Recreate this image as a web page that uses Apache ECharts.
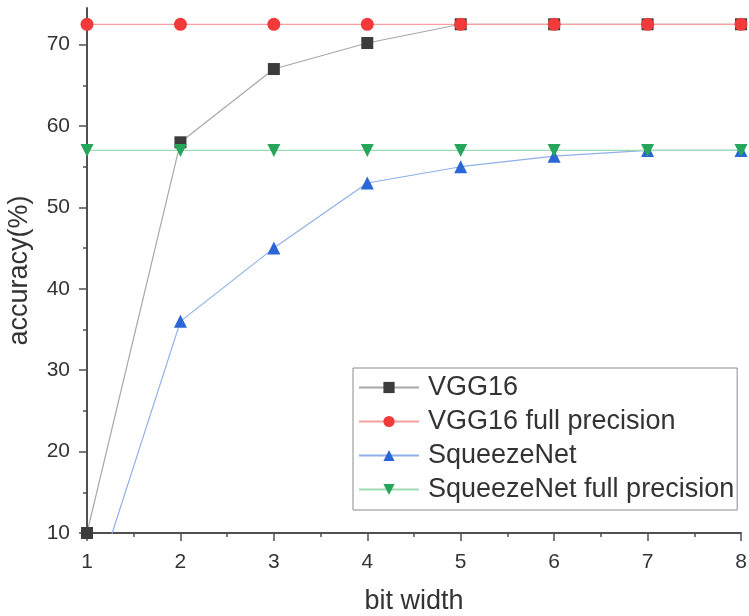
<!DOCTYPE html>
<html><head><meta charset="utf-8">
<script src="https://cdn.jsdelivr.net/npm/echarts@6/dist/echarts.min.js"></script>
<style>html,body{margin:0;padding:0;background:#fff}#c{width:749px;height:616px}</style>
</head><body><div id="c"></div>
<script>
const bitWidths = [1, 2, 3, 4, 5, 6, 7, 8];
const vgg16 = [10, 58, 67, 70.2, 72.5, 72.5, 72.5, 72.5];
const vgg16Full = [72.5, 72.5, 72.5, 72.5, 72.5, 72.5, 72.5, 72.5];
const squeezeNet = [0.4, 36, 45, 53, 55, 56.3, 57, 57];
const squeezeNetFull = [57, 57, 57, 57, 57, 57, 57, 57];
const yTicks = [10, 20, 30, 40, 50, 60, 70];

const pair = arr => bitWidths.map((x, i) => [x, arr[i]]);
const font = 'Liberation Sans, Arial, sans-serif';
const chart = echarts.init(document.getElementById('c'));
function mk(name, data, lineColor, markColor, symbol, size, rotate) {
  return {
    name, type: 'line', data: pair(data), symbol, symbolSize: size, symbolRotate: rotate || 0,
    lineStyle: { color: lineColor, width: 1.2 },
    itemStyle: { color: markColor, borderWidth: 0 },
    clip: true, animation: false, z: 3
  };
}
chart.setOption({
  animation: false,
  grid: { left: 87, right: 8, top: 8, bottom: 83, containLabel: false, outerBoundsMode: 'none' },
  xAxis: {
    type: 'value', min: 1, max: 8, interval: 1,
    name: 'bit width', nameLocation: 'middle', nameGap: 55,
    nameTextStyle: { fontSize: 27, color: '#333', fontFamily: font },
    axisLine: { lineStyle: { color: '#505050', width: 2 } },
    axisTick: { show: true, inside: false, length: 8, lineStyle: { color: '#505050', width: 1.5 } },
    minorTick: { show: true, splitNumber: 2, length: 4, lineStyle: { color: '#505050', width: 1.5 } },
    axisLabel: { fontSize: 21, color: '#333', fontFamily: font, margin: 19 },
    splitLine: { show: false }
  },
  yAxis: {
    type: 'value', min: 10, max: 74.5, interval: 10,
    name: 'accuracy(%)', nameLocation: 'middle', nameGap: 54, nameRotate: 90,
    nameTextStyle: { fontSize: 27, color: '#333', fontFamily: font },
    axisLine: { show: true, lineStyle: { color: '#505050', width: 2 } },
    axisTick: { show: true, inside: false, length: 8, lineStyle: { color: '#505050', width: 1.5 },
                customValues: yTicks },
    minorTick: { show: true, splitNumber: 2, length: 4, lineStyle: { color: '#505050', width: 1.5 } },
    axisLabel: { fontSize: 21, color: '#333', fontFamily: font, margin: 17, customValues: yTicks },
    splitLine: { show: false }
  },
  legend: {
    orient: 'vertical', left: 353, top: 368,
    itemWidth: 60, itemHeight: 14, itemGap: 7,
    padding: [6, 3, 7, 5],
    borderColor: '#8a8a8a', borderWidth: 1,
    textStyle: { fontSize: 27, color: '#333', fontFamily: font, padding: [0, 0, 0, 4] },
    data: ['VGG16', 'VGG16 full precision', 'SqueezeNet', 'SqueezeNet full precision']
  },
  series: [
    mk('VGG16', vgg16, '#a8a8a8', '#3c3c3c', 'rect', 12),
    mk('VGG16 full precision', vgg16Full, '#f5a0a0', '#f23a3a', 'circle', 13),
    mk('SqueezeNet', squeezeNet, '#8fb0e8', '#2a66d6', 'triangle', 13),
    mk('SqueezeNet full precision', squeezeNetFull, '#9fdcb4', '#26a65a', 'triangle', 13, 180)
  ]
});
</script></body></html>
